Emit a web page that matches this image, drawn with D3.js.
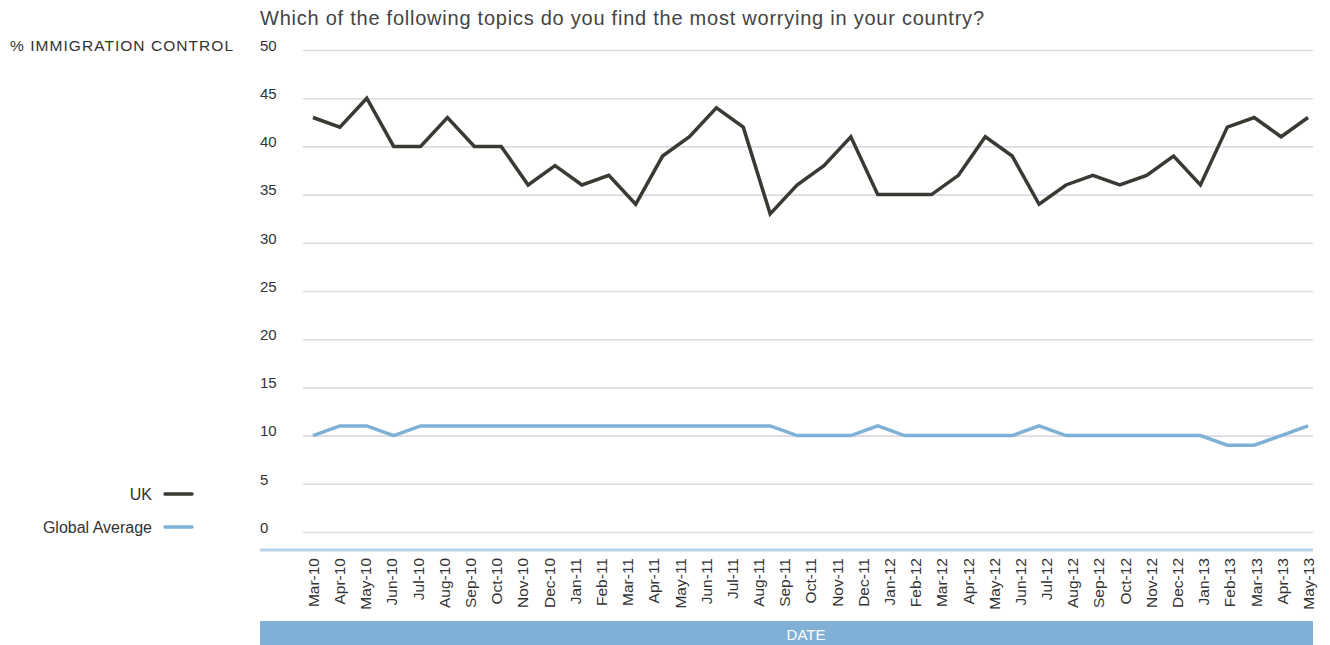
<!DOCTYPE html>
<html>
<head>
<meta charset="utf-8">
<script src="https://cdn.jsdelivr.net/npm/d3@7"></script>
<style>
  html, body { margin: 0; padding: 0; background: #fff; }
  svg { display: block; font-family: "Liberation Sans", Arial, Helvetica, sans-serif; }
</style>
</head>
<body>
<svg id="chart" width="1330" height="645"></svg>
<script>
const months = ["Mar-10","Apr-10","May-10","Jun-10","Jul-10","Aug-10","Sep-10","Oct-10","Nov-10","Dec-10",
  "Jan-11","Feb-11","Mar-11","Apr-11","May-11","Jun-11","Jul-11","Aug-11","Sep-11","Oct-11","Nov-11","Dec-11",
  "Jan-12","Feb-12","Mar-12","Apr-12","May-12","Jun-12","Jul-12","Aug-12","Sep-12","Oct-12","Nov-12","Dec-12",
  "Jan-13","Feb-13","Mar-13","Apr-13","May-13"];
const ukValues = [43,42,45,40,40,43,40,40,36,38,36,37,34,39,41,44,42,33,36,38,41,35,35,35,37,41,39,34,36,37,36,37,39,36,42,43,41,43];
const globalValues = [10,11,11,10,11,11,11,11,11,11,11,11,11,11,11,11,11,11,10,10,10,11,10,10,10,10,10,11,10,10,10,10,10,10,9,9,10,11];
const yTicks = [0,5,10,15,20,25,30,35,40,45,50];
const seriesNames = ["UK","Global Average"];
const titleText = "Which of the following topics do you find the most worrying in your country?";
const yAxisTitle = "% IMMIGRATION CONTROL";
const xAxisTitle = "DATE";

const svg = d3.select("#chart");
const colors = { "UK": "#3b3933", "Global Average": "#7fb0d6" };

const y = d3.scaleLinear().domain([0, 50]).range([532, 50]);
const xLabel = d3.scalePoint().domain(months).range([313, 1308]);
const xData = d3.scaleLinear().domain([0, ukValues.length - 1]).range([313, 1308]);

// title
svg.append("text").attr("x", 260).attr("y", 25)
  .attr("font-size", 20).attr("fill", "#444")
  .attr("textLength", 724).attr("lengthAdjust", "spacing").text(titleText);

svg.append("text").attr("x", 10).attr("y", 51)
  .attr("font-size", 15.5).attr("fill", "#333")
  .attr("textLength", 223).attr("lengthAdjust", "spacing").text(yAxisTitle);

// gridlines
const yAxis = d3.axisLeft(y).tickValues(yTicks).tickSize(-1010).tickFormat(d3.format("d"));
const gy = svg.append("g").attr("transform", "translate(303,0)").call(yAxis);
gy.select(".domain").remove();
gy.selectAll(".tick line").attr("stroke", "#dcdbe3").attr("stroke-width", 1.6);
gy.selectAll(".tick text").attr("x", -43).attr("dy", "0.02em").attr("text-anchor", "start")
  .attr("font-size", 15).attr("fill", "#333").attr("font-family", "Liberation Sans, Arial, sans-serif");

// x axis line
svg.append("line").attr("x1", 260).attr("x2", 1313).attr("y1", 550).attr("y2", 550)
  .attr("stroke", "#b7d4ea").attr("stroke-width", 3);

// x labels
const xAxis = d3.axisBottom(xLabel).tickSize(0);
const gx = svg.append("g").attr("transform", "translate(0,558)").call(xAxis);
gx.select(".domain").remove();
gx.selectAll(".tick text")
  .attr("transform", "rotate(-90)")
  .attr("x", 0).attr("y", 0).attr("dy", "0.35em")
  .attr("text-anchor", "end")
  .attr("font-size", 15.5).attr("fill", "#333").attr("font-family", "Liberation Sans, Arial, sans-serif");

// date bar
svg.append("rect").attr("x", 260).attr("y", 621).attr("width", 1053).attr("height", 24).attr("fill", "#80b0d5");
svg.append("text").attr("x", 806).attr("y", 640).attr("text-anchor", "middle")
  .attr("font-size", 15).attr("fill", "#fff").text(xAxisTitle);

// lines
const line = d3.line().x((d, i) => xData(i)).y(d => y(d)).curve(d3.curveLinear);
svg.append("path").datum(globalValues).attr("d", line).attr("fill", "none")
  .attr("stroke", colors["Global Average"]).attr("stroke-width", 3.5).attr("stroke-linejoin", "miter");
svg.append("path").datum(ukValues).attr("d", line).attr("fill", "none")
  .attr("stroke", colors["UK"]).attr("stroke-width", 3.5).attr("stroke-linejoin", "miter");

// legend
const legY = [494, 527];
seriesNames.forEach((name, i) => {
  svg.append("text").attr("x", 152).attr("y", legY[i]).attr("dy", "0.35em").attr("text-anchor", "end")
    .attr("font-size", 16).attr("fill", "#333").text(name);
  svg.append("line").attr("x1", 165).attr("x2", 192).attr("y1", legY[i]).attr("y2", legY[i])
    .attr("stroke", colors[name]).attr("stroke-width", 3.5).attr("stroke-linecap", "round");
});
</script>
</body>
</html>
